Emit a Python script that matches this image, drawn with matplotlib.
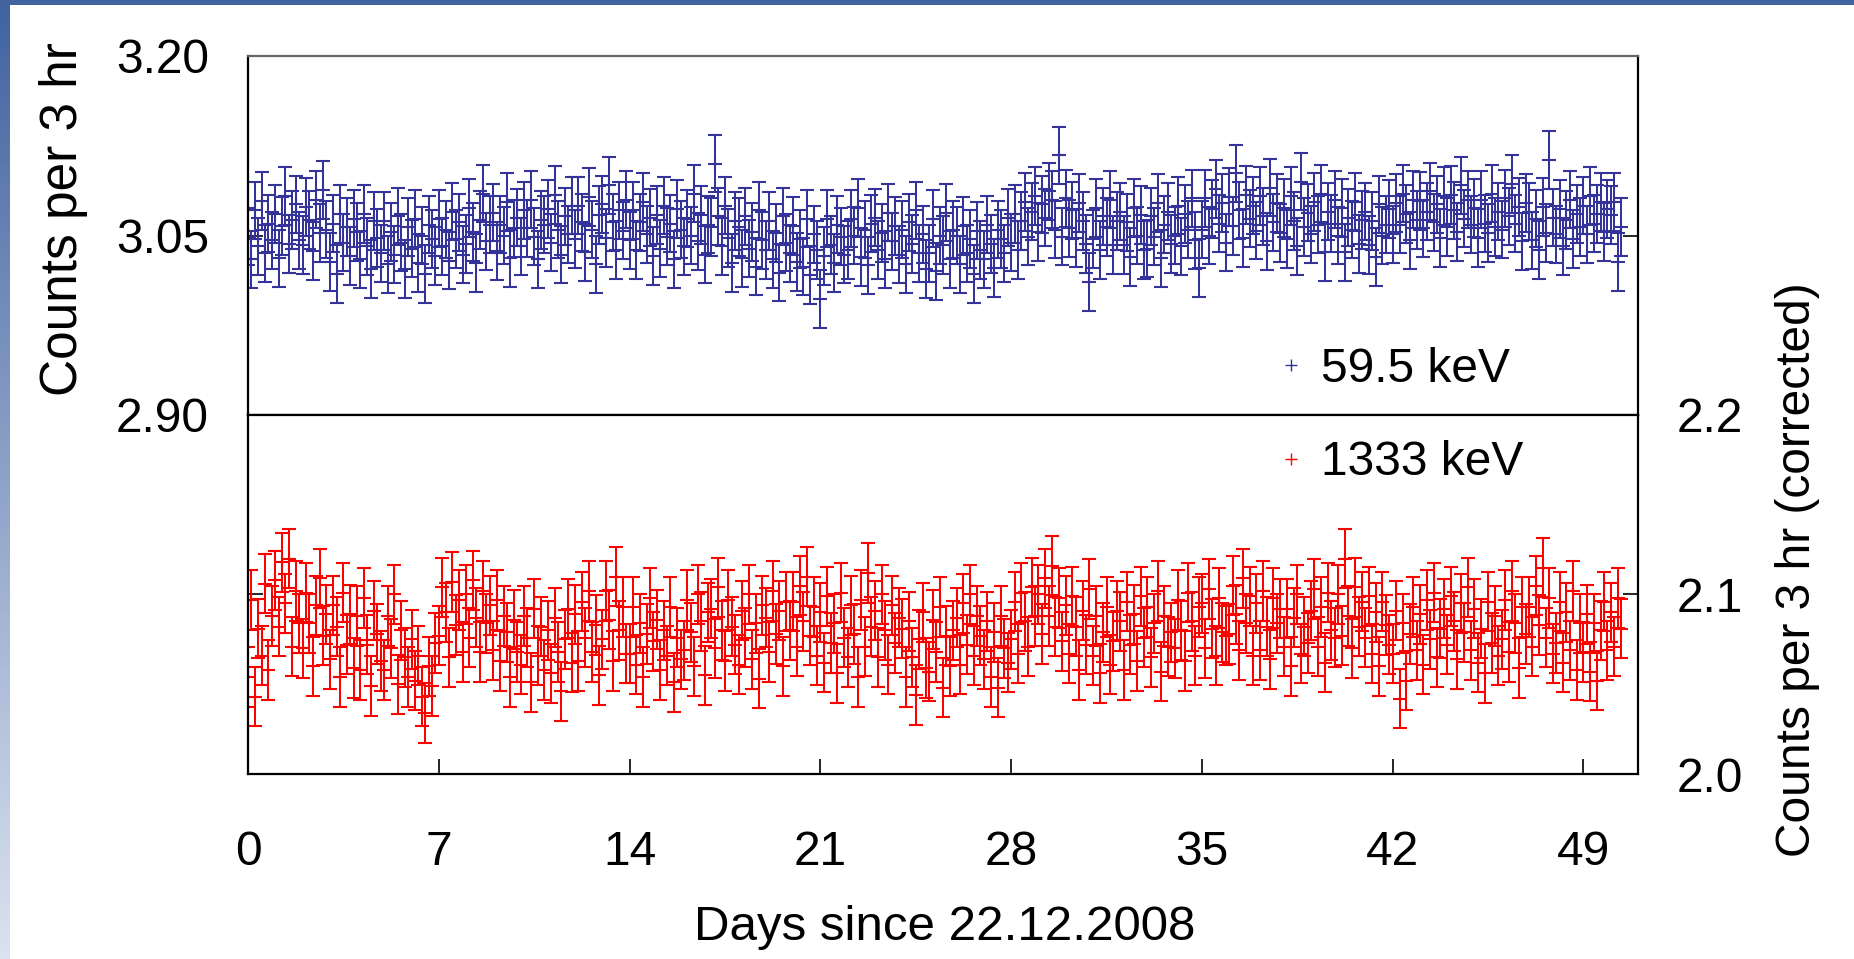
"""
Two-panel count-rate plot: 59.5 keV (top) and 1333 keV (bottom), 3 hr bins
"""
import numpy as np
import matplotlib
matplotlib.use('Agg')
import matplotlib.pyplot as plt
from matplotlib.lines import Line2D

# 3 hr bins, 8 per day, starting 22.12.2008
bin_hours = 3

# Counts per 3 hr, 59.5 keV line (one row per day)
counts_595 = [
    3.049, 3.030, 3.071, 3.041, 3.079, 3.035, 3.060, 3.046,
    3.068, 3.031, 3.058, 3.083, 3.043, 3.063, 3.076, 3.046,
    3.042, 3.074, 3.063, 3.037, 3.080, 3.052, 3.088, 3.055,
    3.028, 3.060, 3.018, 3.068, 3.044, 3.057, 3.033, 3.064,
    3.053, 3.030, 3.068, 3.041, 3.022, 3.062, 3.048, 3.035,
    3.062, 3.026, 3.053, 3.034, 3.066, 3.044, 3.022, 3.057,
    3.039, 3.064, 3.027, 3.050, 3.018, 3.059, 3.047, 3.033,
    3.064, 3.041, 3.055, 3.029, 3.070, 3.047, 3.061, 3.034,
    3.043, 3.073, 3.053, 3.027, 3.063, 3.085, 3.045, 3.059,
    3.069, 3.037, 3.059, 3.050, 3.078, 3.031, 3.056, 3.065,
    3.041, 3.071, 3.056, 3.080, 3.049, 3.030, 3.063, 3.059,
    3.072, 3.044, 3.084, 3.055, 3.034, 3.066, 3.051, 3.075,
    3.047, 3.075, 3.061, 3.036, 3.082, 3.055, 3.026, 3.067,
    3.076, 3.048, 3.092, 3.061, 3.038, 3.071, 3.054, 3.080,
    3.046, 3.071, 3.038, 3.061, 3.078, 3.051, 3.065, 3.033,
    3.067, 3.039, 3.075, 3.049, 3.060, 3.030, 3.072, 3.055,
    3.041, 3.064, 3.050, 3.085, 3.045, 3.067, 3.034, 3.059,
    3.057, 3.110, 3.066, 3.041, 3.075, 3.048, 3.027, 3.062,
    3.057, 3.031, 3.066, 3.039, 3.053, 3.024, 3.071, 3.046,
    3.038, 3.062, 3.030, 3.052, 3.019, 3.066, 3.044, 3.035,
    3.058, 3.028, 3.047, 3.024, 3.064, 3.017, 3.051, 3.038,
    2.997, 3.033, 3.064, 3.042, 3.027, 3.059, 3.049, 3.034,
    3.038, 3.064, 3.050, 3.073, 3.032, 3.055, 3.025, 3.060,
    3.065, 3.038, 3.052, 3.030, 3.069, 3.045, 3.058, 3.034,
    3.055, 3.026, 3.061, 3.043, 3.071, 3.035, 3.051, 3.022,
    3.035, 3.064, 3.020, 3.050, 3.042, 3.069, 3.030, 3.055,
    3.050, 3.026, 3.058, 3.035, 3.047, 3.018, 3.054, 3.038,
    3.030, 3.059, 3.043, 3.023, 3.055, 3.047, 3.035, 3.065,
    3.044, 3.068, 3.038, 3.062, 3.078, 3.049, 3.070, 3.083,
    3.053, 3.076, 3.065, 3.087, 3.080, 3.055, 3.117, 3.049,
    3.081, 3.056, 3.071, 3.048, 3.077, 3.062, 3.043, 3.011,
    3.047, 3.073, 3.038, 3.066, 3.057, 3.080, 3.042, 3.062,
    3.070, 3.042, 3.061, 3.032, 3.073, 3.050, 3.067, 3.038,
    3.039, 3.066, 3.049, 3.077, 3.031, 3.059, 3.070, 3.043,
    3.050, 3.075, 3.041, 3.068, 3.055, 3.081, 3.046, 3.023,
    3.055, 3.081, 3.050, 3.072, 3.089, 3.060, 3.077, 3.044,
    3.082, 3.058, 3.102, 3.071, 3.048, 3.084, 3.064, 3.075,
    3.054, 3.083, 3.066, 3.045, 3.090, 3.061, 3.077, 3.052,
    3.073, 3.047, 3.083, 3.062, 3.041, 3.095, 3.057, 3.069,
    3.051, 3.078, 3.059, 3.085, 3.036, 3.070, 3.060, 3.080,
    3.050, 3.073, 3.036, 3.065, 3.055, 3.078, 3.043, 3.063,
    3.070, 3.042, 3.062, 3.032, 3.076, 3.050, 3.059, 3.072,
    3.051, 3.077, 3.059, 3.085, 3.068, 3.046, 3.080, 3.063,
    3.079, 3.056, 3.070, 3.087, 3.061, 3.076, 3.048, 3.083,
    3.057, 3.084, 3.071, 3.053, 3.092, 3.064, 3.080, 3.059,
    3.073, 3.048, 3.080, 3.060, 3.052, 3.085, 3.057, 3.070,
    3.055, 3.081, 3.066, 3.093, 3.060, 3.074, 3.045, 3.077,
    3.070, 3.046, 3.064, 3.038, 3.074, 3.052, 3.113, 3.065,
    3.051, 3.072, 3.041, 3.063, 3.080, 3.047, 3.068, 3.057,
    3.075, 3.051, 3.083, 3.060, 3.068, 3.078, 3.053, 3.072,
    3.067, 3.078, 3.028, 3.057,
]
err_595 = 0.024

# Counts per 3 hr (corrected), 1333 keV line
counts_1333 = [
    2.054, 2.097, 2.043, 2.081, 2.066, 2.106, 2.058, 2.088,
    2.108, 2.082, 2.118, 2.095, 2.120, 2.071, 2.102, 2.084,
    2.070, 2.101, 2.084, 2.060, 2.094, 2.109, 2.077, 2.089,
    2.064, 2.094, 2.082, 2.054, 2.101, 2.072, 2.089, 2.059,
    2.088, 2.058, 2.098, 2.072, 2.049, 2.091, 2.078, 2.063,
    2.058, 2.088, 2.070, 2.100, 2.050, 2.080, 2.065, 2.054,
    2.075, 2.052, 2.066, 2.043, 2.034, 2.060, 2.049, 2.073,
    2.077, 2.104, 2.090, 2.065, 2.107, 2.083, 2.097, 2.068,
    2.100, 2.076, 2.108, 2.087, 2.068, 2.102, 2.084, 2.094,
    2.069, 2.097, 2.063, 2.088, 2.079, 2.054, 2.086, 2.068,
    2.061, 2.088, 2.076, 2.051, 2.092, 2.066, 2.082, 2.058,
    2.080, 2.056, 2.087, 2.068, 2.046, 2.075, 2.092, 2.062,
    2.089, 2.063, 2.096, 2.076, 2.102, 2.068, 2.083, 2.055,
    2.075, 2.102, 2.086, 2.063, 2.110, 2.080, 2.093, 2.067,
    2.067, 2.093, 2.061, 2.084, 2.054, 2.078, 2.098, 2.074,
    2.086, 2.058, 2.080, 2.066, 2.093, 2.051, 2.076, 2.064,
    2.069, 2.097, 2.079, 2.060, 2.100, 2.085, 2.055, 2.090,
    2.092, 2.070, 2.104, 2.080, 2.063, 2.097, 2.082, 2.072,
    2.061, 2.091, 2.076, 2.100, 2.064, 2.084, 2.053, 2.094,
    2.087, 2.068, 2.102, 2.078, 2.091, 2.060, 2.096, 2.080,
    2.096, 2.071, 2.105, 2.085, 2.110, 2.077, 2.093, 2.066,
    2.090, 2.062, 2.099, 2.073, 2.084, 2.056, 2.101, 2.076,
    2.065, 2.094, 2.078, 2.054, 2.097, 2.071, 2.112, 2.082,
    2.091, 2.065, 2.100, 2.080, 2.061, 2.094, 2.073, 2.087,
    2.081, 2.054, 2.085, 2.065, 2.044, 2.075, 2.090, 2.059,
    2.057, 2.086, 2.068, 2.093, 2.048, 2.077, 2.060, 2.080,
    2.087, 2.061, 2.095, 2.072, 2.100, 2.066, 2.088, 2.077,
    2.064, 2.085, 2.054, 2.079, 2.048, 2.088, 2.070, 2.062,
    2.075, 2.096, 2.067, 2.101, 2.085, 2.071, 2.104, 2.088,
    2.100, 2.078, 2.109, 2.088, 2.116, 2.082, 2.098, 2.074,
    2.094, 2.067, 2.099, 2.082, 2.058, 2.091, 2.072, 2.103,
    2.066, 2.088, 2.056, 2.079, 2.093, 2.061, 2.074, 2.091,
    2.085, 2.058, 2.096, 2.072, 2.089, 2.063, 2.099, 2.076,
    2.093, 2.065, 2.084, 2.102, 2.057, 2.088, 2.071, 2.079,
    2.070, 2.097, 2.080, 2.063, 2.101, 2.085, 2.066, 2.093,
    2.095, 2.070, 2.103, 2.081, 2.066, 2.098, 2.079, 2.077,
    2.078, 2.105, 2.089, 2.069, 2.109, 2.084, 2.099, 2.066,
    2.095, 2.069, 2.102, 2.082, 2.064, 2.098, 2.084, 2.092,
    2.071, 2.092, 2.060, 2.087, 2.100, 2.067, 2.082, 2.073,
    2.091, 2.103, 2.071, 2.093, 2.062, 2.101, 2.080, 2.076,
    2.100, 2.077, 2.120, 2.088, 2.070, 2.104, 2.082, 2.096,
    2.076, 2.099, 2.067, 2.090, 2.060, 2.096, 2.083, 2.072,
    2.067, 2.091, 2.042, 2.084, 2.052, 2.078, 2.093, 2.069,
    2.089, 2.061, 2.097, 2.075, 2.101, 2.065, 2.081, 2.092,
    2.072, 2.099, 2.085, 2.064, 2.095, 2.079, 2.104, 2.069,
    2.092, 2.062, 2.081, 2.056, 2.096, 2.073, 2.088, 2.066,
    2.075, 2.097, 2.068, 2.102, 2.084, 2.059, 2.093, 2.078,
    2.093, 2.071, 2.105, 2.083, 2.115, 2.076, 2.098, 2.067,
    2.073, 2.096, 2.062, 2.090, 2.069, 2.102, 2.058, 2.084,
    2.068, 2.089, 2.057, 2.084, 2.052, 2.080, 2.096, 2.069,
    2.090, 2.071, 2.098, 2.081,
]
err_1333 = 0.0165

day_ticks = [0, 7, 14, 21, 28, 35, 42, 49]
top_yticks = [2.90, 3.05, 3.20]
bot_yticks = [2.0, 2.1, 2.2]

BLUE = '#333399'
RED = '#FF0000'
FS = 34.5

plt.rcParams['font.family'] = ['Liberation Sans', 'DejaVu Sans']

days_595 = np.arange(len(counts_595)) * bin_hours / 24.0
days_1333 = np.arange(len(counts_1333)) * bin_hours / 24.0

fig = plt.figure(figsize=(18.54, 9.59), dpi=100)
fig.patch.set_facecolor('white')

# slide decoration: dark bar on top, fading strip on the left
bar = fig.add_axes([0, 1 - 5 / 959, 1, 5 / 959])
bar.set_axis_off()
bar.add_patch(plt.Rectangle((0, 0), 1, 1, color='#43639F', transform=bar.transAxes))
strip = fig.add_axes([0, 0, 10 / 1854, 1 - 5 / 959])
grad = np.linspace(0, 1, 256)[:, None]
c0 = np.array([0.26, 0.39, 0.63])
c1 = np.array([0.86, 0.89, 0.94])
strip.imshow(c0 + grad[:, :, None] * (c1 - c0), aspect='auto', extent=[0, 1, 0, 1],
             origin='upper')
strip.set_axis_off()

left, right = 248 / 1854, 1638 / 1854
mid, bottom, top = 1 - 415 / 959, 1 - 774 / 959, 1 - 56 / 959
ax_top = fig.add_axes([left, mid, right - left, top - mid])
ax_bot = fig.add_axes([left, bottom, right - left, mid - bottom])

eb_kw = dict(fmt='+', markersize=10, markeredgewidth=1.5, elinewidth=1.45,
             capsize=5, capthick=1.6)
ax_top.errorbar(days_595, counts_595, yerr=err_595, color=BLUE, ecolor=BLUE, **eb_kw)
ax_bot.errorbar(days_1333, counts_1333, yerr=err_1333, color=RED, ecolor=RED, **eb_kw)

for ax in (ax_top, ax_bot):
    ax.set_xlim(0, 51)
    for sp in ax.spines.values():
        sp.set_linewidth(1.6)
        sp.set_color('black')
    ax.tick_params(axis='both', direction='in', length=10.8, width=1.2,
                   labelsize=FS, left=True, right=True)

# upper panel
ax_top.set_ylim(2.90, 3.20)
ax_top.set_yticks(top_yticks)
ax_top.set_yticklabels(['%.2f' % v for v in top_yticks])
ax_top.set_xticks([])
ax_top.tick_params(axis='y', pad=28, labelleft=True, labelright=False)
ax_top.spines['top'].set_color('#666666')

# lower panel
ax_bot.set_ylim(2.0, 2.2)
ax_bot.set_yticks(bot_yticks)
ax_bot.set_yticklabels(['%.1f' % v for v in bot_yticks])
ax_bot.tick_params(axis='y', pad=28, labelleft=False, labelright=True)
ax_bot.set_xticks(day_ticks)
ax_bot.tick_params(axis='x', pad=40, top=False)

# legends
h_595 = Line2D([], [], linestyle='none', marker='+', color=BLUE, markersize=9, markeredgewidth=1)
h_1333 = Line2D([], [], linestyle='none', marker='+', color=RED, markersize=9, markeredgewidth=1)
leg_kw = dict(frameon=False, fontsize=FS, handlelength=0.6, handletextpad=0.32,
              borderpad=0, borderaxespad=0, loc='center left',
              bbox_transform=fig.transFigure)
ax_top.legend([h_595], ['59.5 keV'], bbox_to_anchor=(1277 / 1854, 1 - 369 / 959), **leg_kw)
ax_bot.legend([h_1333], ['1333 keV'], bbox_to_anchor=(1277 / 1854, 1 - 463 / 959), **leg_kw)

# axis titles
fig.text(64 / 1854, 1 - 219 / 959, 'Counts per 3 hr', rotation=90,
         ha='center', va='center', fontsize=37)
fig.text(1797 / 1854, 1 - 570 / 959, 'Counts per 3 hr (corrected)', rotation=90,
         ha='center', va='center', fontsize=FS)
fig.text(945 / 1854, 1 - 928 / 959, 'Days since 22.12.2008',
         ha='center', va='center', fontsize=35.5)

plt.savefig('out.png', dpi=100)
plt.close()
